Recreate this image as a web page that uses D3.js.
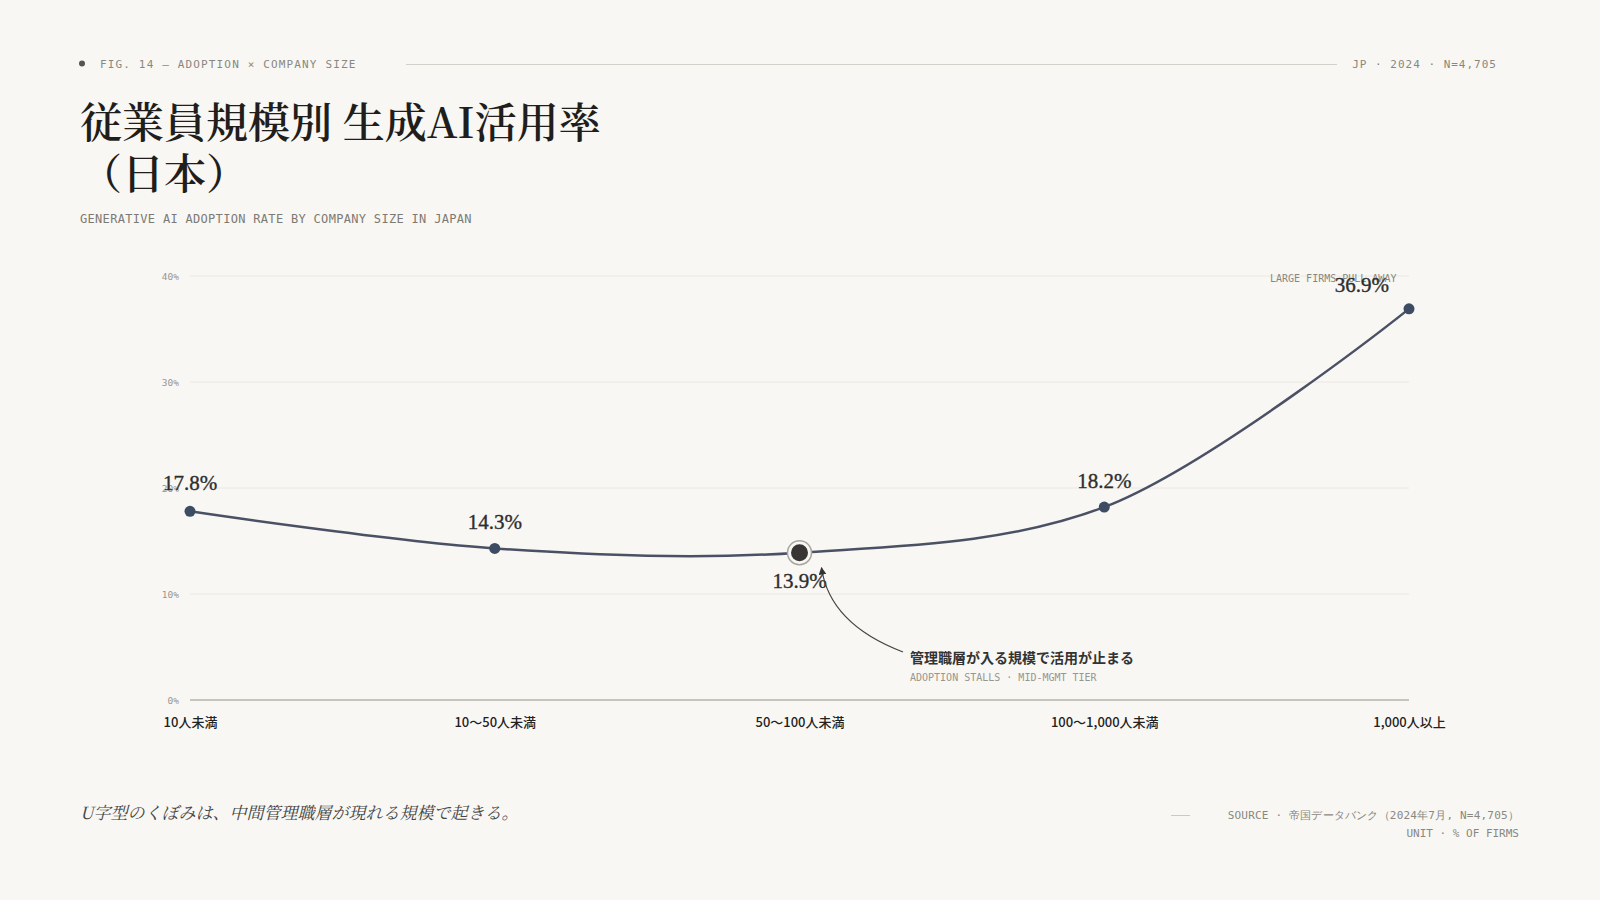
<!DOCTYPE html>
<html lang="ja">
<head>
<meta charset="utf-8">
<script src="https://cdn.jsdelivr.net/npm/d3@7"></script>
<style>
  html, body { margin: 0; padding: 0; background: #f8f7f3; }
  svg { display: block; }
  .mono { font-family: "DejaVu Sans Mono", "Liberation Mono", monospace; }
  .serif { font-family: "Noto Serif CJK JP", "Noto Serif JP", "Liberation Serif", serif; }
  .sans { font-family: "Noto Sans CJK JP", "Noto Sans", sans-serif; }
</style>
</head>
<body>
<svg id="chart" width="1600" height="900"></svg>
<script>
// ---- data ----
const categories = ["10人未満", "10〜50人未満", "50〜100人未満", "100〜1,000人未満", "1,000人以上"];
const adoptionRate = [17.8, 14.3, 13.9, 18.2, 36.9];
const yTicks = [0, 10, 20, 30, 40];
const highlightIndex = 2;

const headerLeft = "FIG. 14 — ADOPTION × COMPANY SIZE";
const headerRight = "JP · 2024 · N=4,705";
const titleLines = ["従業員規模別 生成AI活用率", "（日本）"];
const subtitle = "GENERATIVE AI ADOPTION RATE BY COMPANY SIZE IN JAPAN";
const annotationMain = "管理職層が入る規模で活用が止まる";
const annotationSub = "ADOPTION STALLS · MID-MGMT TIER";
const topNote = "LARGE FIRMS PULL AWAY";
const footerNote = "U字型のくぼみは、中間管理職層が現れる規模で起きる。";
const sourceLines = ["SOURCE · 帝国データバンク（2024年7月, N=4,705）", "UNIT · % OF FIRMS"];

// ---- setup ----
const svg = d3.select("#chart");
const W = 1600, H = 900;

svg.append("rect").attr("width", W).attr("height", H).attr("fill", "#f8f7f3");

// header
svg.append("circle").attr("cx", 82).attr("cy", 63.5).attr("r", 3).attr("fill", "#555");
svg.append("text").attr("class", "mono")
  .attr("x", 100).attr("y", 67.5)
  .attr("font-size", 11).attr("letter-spacing", "1.15px").attr("fill", "#8a8780")
  .text(headerLeft);
svg.append("line").attr("x1", 406).attr("x2", 1337).attr("y1", 64.5).attr("y2", 64.5)
  .attr("stroke", "#d3d0c9").attr("stroke-width", 1);
svg.append("text").attr("class", "mono")
  .attr("x", 1497).attr("y", 67.5).attr("text-anchor", "end")
  .attr("font-size", 11).attr("letter-spacing", "1px").attr("fill", "#8a8780")
  .text(headerRight);

// title
const title = svg.append("text").attr("class", "serif")
  .attr("x", 80).attr("y", 138)
  .attr("font-size", 42).attr("font-weight", 600).attr("fill", "#1f1e1c");
titleLines.forEach((t, i) => {
  title.append("tspan").attr("x", 80).attr("dy", i === 0 ? 0 : 51).text(t);
});

svg.append("text").attr("class", "mono")
  .attr("x", 80).attr("y", 223)
  .attr("font-size", 12).attr("letter-spacing", "0.31px").attr("fill", "#7d7a73")
  .text(subtitle);

// ---- chart ----
const x = d3.scalePoint().domain(categories).range([190, 1409]).padding(0);
const y = d3.scaleLinear().domain([0, 40]).range([700, 276]);

const g = svg.append("g");

// gridlines
g.selectAll("line.grid").data(yTicks.filter(d => d > 0)).join("line")
  .attr("class", "grid")
  .attr("x1", 190).attr("x2", 1409)
  .attr("y1", d => y(d)).attr("y2", d => y(d))
  .attr("stroke", "#ebe8e1").attr("stroke-width", 1);

// y axis tick labels
const yAxis = d3.axisLeft(y).tickValues(yTicks).tickSize(0).tickPadding(0)
  .tickFormat(d => d + "%");
const yG = g.append("g").attr("transform", "translate(179,0)").call(yAxis);
yG.select(".domain").remove();
yG.selectAll("text").attr("class", "mono")
  .attr("font-size", 9.5).attr("fill", "#9a968e").attr("dy", "0.35em");

// baseline
g.append("line").attr("x1", 190).attr("x2", 1409).attr("y1", y(0)).attr("y2", y(0))
  .attr("stroke", "#b8b5ae").attr("stroke-width", 1.5);

// x axis labels
const xAxis = d3.axisBottom(x).tickSize(0).tickPadding(0);
const xG = g.append("g").attr("transform", `translate(0,${y(0)})`).call(xAxis);
xG.select(".domain").remove();
xG.selectAll("text").attr("class", "sans")
  .attr("font-size", 13).attr("font-weight", 500).attr("fill", "#222")
  .attr("y", 27).attr("dy", 0);

// top note
g.append("text").attr("class", "mono")
  .attr("x", 1270).attr("y", y(40) + 6)
  .attr("font-size", 10).attr("fill", "#8a8780")
  .text(topNote);

// line
const data = categories.map((c, i) => ({ c, v: adoptionRate[i], i }));
const line = d3.line().x(d => x(d.c)).y(d => y(d.v)).curve(d3.curveCatmullRom);
g.append("path").datum(data)
  .attr("d", line).attr("fill", "none")
  .attr("stroke", "#4a5164").attr("stroke-width", 2.5);

// points
g.selectAll("circle.pt").data(data.filter(d => d.i !== highlightIndex)).join("circle")
  .attr("class", "pt")
  .attr("cx", d => x(d.c)).attr("cy", d => y(d.v)).attr("r", 5.5)
  .attr("fill", "#3d4b63");

// highlight point
const hp = data[highlightIndex];
g.append("circle").attr("cx", x(hp.c)).attr("cy", y(hp.v)).attr("r", 12)
  .attr("fill", "#f8f7f3").attr("stroke", "#a9a6a0").attr("stroke-width", 1.5);
g.append("circle").attr("cx", x(hp.c)).attr("cy", y(hp.v)).attr("r", 8.5)
  .attr("fill", "#383634");

// value labels
const last = data.length - 1;
g.selectAll("text.val").data(data).join("text")
  .attr("class", "val")
  .attr("x", d => d.i === last ? x(d.c) - 20 : x(d.c))
  .attr("y", d => d.i === highlightIndex ? y(d.v) + 35 : (d.i === last ? y(d.v) - 17 : (d.i === 0 ? y(d.v) - 21 : y(d.v) - 19)))
  .attr("text-anchor", d => d.i === last ? "end" : "middle")
  .attr("font-size", 21).attr("font-weight", 400).attr("fill", "#2e2e2e")
  .style("font-family", '"Liberation Serif", "DejaVu Serif", serif')
  .style("paint-order", "stroke").attr("stroke", "#2e2e2e").attr("stroke-width", 0.35)
  .text(d => d.v.toFixed(1) + "%");

// annotation arrow
const defs = svg.append("defs");
defs.append("marker").attr("id", "arrow")
  .attr("viewBox", "0 0 10 10").attr("refX", 9).attr("refY", 5)
  .attr("markerWidth", 7).attr("markerHeight", 7).attr("orient", "auto-start-reverse")
  .append("path").attr("d", "M0,0 L10,5 L0,10 Z").attr("fill", "#333");

const ax0 = 903, ay0 = 652;
const ax1 = x(hp.c) + 22, ay1 = y(hp.v) + 15;
g.append("path")
  .attr("d", `M${ax0},${ay0} Q${ax1 + 8},${ay0 - 28} ${ax1},${ay1}`)
  .attr("fill", "none").attr("stroke", "#444").attr("stroke-width", 1.1)
  .attr("marker-end", "url(#arrow)");

g.append("text").attr("class", "sans")
  .attr("x", 910).attr("y", 663)
  .attr("font-size", 14).attr("font-weight", 700).attr("fill", "#333")
  .text(annotationMain);
g.append("text").attr("class", "mono")
  .attr("x", 910).attr("y", 681)
  .attr("font-size", 10).attr("fill", "#9a968e")
  .text(annotationSub);

// footer
svg.append("text").attr("class", "serif")
  .attr("x", 80).attr("y", 819)
  .attr("font-size", 17).attr("font-style", "italic").attr("fill", "#444")
  .text(footerNote);

svg.append("line").attr("x1", 1171).attr("x2", 1190).attr("y1", 815.5).attr("y2", 815.5)
  .attr("stroke", "#ccc9c2").attr("stroke-width", 1);
sourceLines.forEach((t, i) => {
  svg.append("text").attr("class", "mono")
    .attr("x", 1519).attr("y", 819 + i * 18).attr("text-anchor", "end")
    .attr("font-size", 11).attr("letter-spacing", i === 0 ? "0.2px" : "0px").attr("fill", "#8a8780")
    .text(t);
});
</script>
</body>
</html>
